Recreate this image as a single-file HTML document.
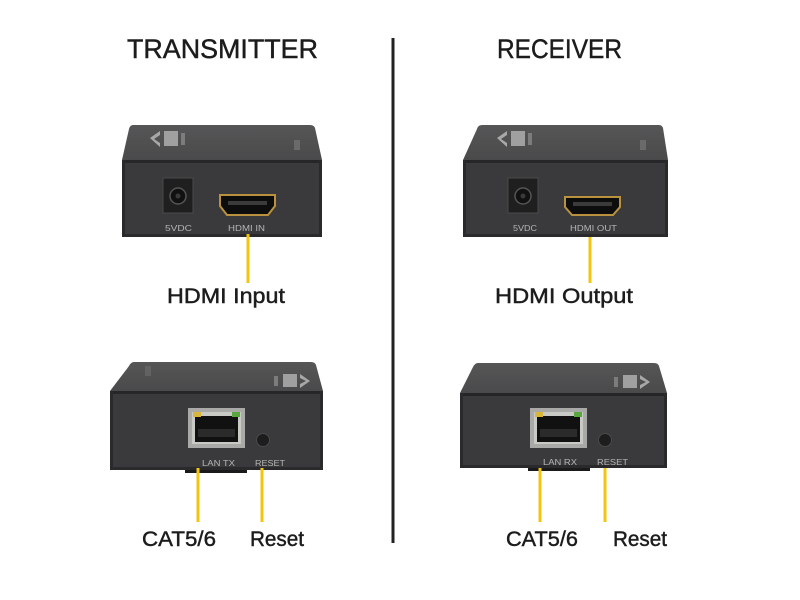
<!DOCTYPE html>
<html><head><meta charset="utf-8"><style>
html,body{margin:0;padding:0;background:#fff;}
svg{display:block;}
text{font-family:"Liberation Sans",Arial,sans-serif;}
.t{fill:#1c1c1c;stroke:#1c1c1c;stroke-width:0.45;}
</style></head><body>
<svg width="800" height="600" viewBox="0 0 800 600" xmlns="http://www.w3.org/2000/svg">
<defs>
<linearGradient id="tf" x1="0" y1="0" x2="0" y2="1">
<stop offset="0" stop-color="#565657"/><stop offset="1" stop-color="#4a4a4b"/>
</linearGradient>
</defs>
<rect width="800" height="600" fill="#fff"/>
<!-- titles -->
<text class="t" x="127" y="58" font-size="27" textLength="191" lengthAdjust="spacingAndGlyphs">TRANSMITTER</text>
<text class="t" x="497" y="58" font-size="27" textLength="125" lengthAdjust="spacingAndGlyphs">RECEIVER</text>
<!-- divider -->
<rect x="391.5" y="38" width="3" height="505" fill="#222"/>

<!-- ===== TX top unit ===== -->
<path d="M133,125 L310,125 Q314,125 315,128 L322,160 L122,160 L129,129 Q130,125 133,125 Z" fill="url(#tf)"/>
<path d="M150,138 L160,131 L160,135 L154,139 L160,143 L160,147 Z" fill="#a8a8a8"/>
<rect x="164" y="131" width="14" height="15" fill="#a0a0a0"/>
<rect x="181" y="133" width="4" height="12" fill="#7c7c7c"/>
<rect x="294" y="140" width="6" height="10" fill="#6a6a6a"/>
<rect x="122" y="160" width="200" height="77" fill="#3a393b"/>
<rect x="122" y="160" width="200" height="3" fill="#262527"/>
<rect x="122" y="160" width="3" height="77" fill="#2a292b"/>
<rect x="319" y="160" width="3" height="77" fill="#2a292b"/>
<rect x="122" y="234" width="200" height="3" fill="#2a292b"/>
<!-- power jack -->
<rect x="163" y="178" width="30" height="35" fill="#1f1f20" stroke="#4a4a4a" stroke-width="1"/>
<circle cx="178" cy="196" r="8" fill="#111" stroke="#555" stroke-width="1.5"/>
<circle cx="178" cy="196" r="2.5" fill="#3a3a3a"/>
<!-- HDMI -->
<path d="M220,195 L275,195 L275,206 L268,215 L227,215 L220,206 Z" fill="#0d0d0d" stroke="#b8923e" stroke-width="2"/>
<rect x="228" y="201" width="39" height="4" fill="#3b3b3b"/>
<text x="165" y="231" font-size="8" fill="#b5b5b5" textLength="27" lengthAdjust="spacingAndGlyphs">5VDC</text>
<text x="228" y="231" font-size="8" fill="#b5b5b5" textLength="37" lengthAdjust="spacingAndGlyphs">HDMI IN</text>
<rect x="246.5" y="234" width="3" height="49" fill="#f2c511"/>
<text class="t" x="167" y="303" font-size="21" textLength="118" lengthAdjust="spacingAndGlyphs">HDMI Input</text>

<!-- ===== RX top unit ===== -->
<path d="M482,125 L659,125 Q662,125 663,128 L668,160 L463,160 L477,129 Q478,125 482,125 Z" fill="url(#tf)"/>
<path d="M497,138 L507,131 L507,135 L501,139 L507,143 L507,147 Z" fill="#a8a8a8"/>
<rect x="511" y="131" width="14" height="15" fill="#a0a0a0"/>
<rect x="528" y="133" width="4" height="12" fill="#7c7c7c"/>
<rect x="640" y="140" width="6" height="10" fill="#6a6a6a"/>
<rect x="463" y="160" width="205" height="77" fill="#3a393b"/>
<rect x="463" y="160" width="205" height="3" fill="#262527"/>
<rect x="463" y="160" width="3" height="77" fill="#2a292b"/>
<rect x="665" y="160" width="3" height="77" fill="#2a292b"/>
<rect x="463" y="234" width="205" height="3" fill="#2a292b"/>
<rect x="508" y="178" width="30" height="35" fill="#1f1f20" stroke="#4a4a4a" stroke-width="1"/>
<circle cx="523" cy="196" r="8" fill="#111" stroke="#555" stroke-width="1.5"/>
<circle cx="523" cy="196" r="2.5" fill="#3a3a3a"/>
<path d="M565,197 L620,197 L620,207 L613,215 L572,215 L565,207 Z" fill="#0d0d0d" stroke="#b8923e" stroke-width="2"/>
<rect x="573" y="202" width="39" height="4" fill="#3b3b3b"/>
<text x="513" y="231" font-size="8" fill="#b5b5b5" textLength="24" lengthAdjust="spacingAndGlyphs">5VDC</text>
<text x="570" y="231" font-size="8" fill="#b5b5b5" textLength="47" lengthAdjust="spacingAndGlyphs">HDMI OUT</text>
<rect x="588.5" y="237" width="3" height="46" fill="#f2c511"/>
<text class="t" x="495" y="303" font-size="21" textLength="138" lengthAdjust="spacingAndGlyphs">HDMI Output</text>

<!-- ===== TX bottom unit ===== -->
<path d="M134,362 L311,362 Q315,362 316,365 L323,391 L110,391 L129,366 Q131,362 134,362 Z" fill="url(#tf)"/>
<path d="M300,374 L310,381 L300,388 L300,384 L306,381 L300,378 Z" fill="#a8a8a8"/>
<rect x="283" y="374" width="14" height="13" fill="#a0a0a0"/>
<rect x="274" y="376" width="4" height="10" fill="#7c7c7c"/>
<rect x="145" y="366" width="6" height="10" fill="#626262"/>
<rect x="110" y="391" width="213" height="79" fill="#3a393b"/>
<rect x="110" y="391" width="213" height="3" fill="#262527"/>
<rect x="110" y="391" width="3" height="79" fill="#2a292b"/>
<rect x="320" y="391" width="3" height="79" fill="#2a292b"/>
<rect x="110" y="467" width="213" height="3" fill="#2a292b"/>
<rect x="185" y="470" width="62" height="3" fill="#1a1a1a"/>
<!-- RJ45 -->
<rect x="188" y="408" width="57" height="40" fill="#a9a9a7"/>
<rect x="192" y="412" width="49" height="32" fill="#c9c9c5"/>
<rect x="195" y="416" width="43" height="26" fill="#111"/>
<rect x="198" y="429" width="37" height="8" fill="#2b2b2b"/>
<rect x="193" y="412" width="8" height="5" fill="#d8b63a"/>
<rect x="232" y="412" width="8" height="5" fill="#59a83f"/>
<circle cx="263" cy="440" r="6.5" fill="#1d1d1e" stroke="#4a4a4a" stroke-width="1"/>
<text x="202" y="466" font-size="8" fill="#b5b5b5" textLength="33" lengthAdjust="spacingAndGlyphs">LAN TX</text>
<text x="255" y="466" font-size="8" fill="#b5b5b5" textLength="30" lengthAdjust="spacingAndGlyphs">RESET</text>
<rect x="196.5" y="468" width="3" height="54" fill="#f2c511"/>
<rect x="260.5" y="468" width="3" height="54" fill="#f2c511"/>
<text class="t" x="142" y="546" font-size="21" textLength="74" lengthAdjust="spacingAndGlyphs">CAT5/6</text>
<text class="t" x="250" y="546" font-size="21" textLength="54" lengthAdjust="spacingAndGlyphs">Reset</text>

<!-- ===== RX bottom unit ===== -->
<path d="M478,363 L654,363 Q658,363 659,366 L667,393 L460,393 L473,367 Q475,363 478,363 Z" fill="url(#tf)"/>
<path d="M640,375 L650,382 L640,389 L640,385 L646,382 L640,379 Z" fill="#a8a8a8"/>
<rect x="623" y="375" width="14" height="13" fill="#a0a0a0"/>
<rect x="614" y="377" width="4" height="10" fill="#7c7c7c"/>
<rect x="460" y="393" width="207" height="75" fill="#3a393b"/>
<rect x="460" y="393" width="207" height="3" fill="#262527"/>
<rect x="460" y="393" width="3" height="75" fill="#2a292b"/>
<rect x="664" y="393" width="3" height="75" fill="#2a292b"/>
<rect x="460" y="465" width="207" height="3" fill="#2a292b"/>
<rect x="528" y="468" width="62" height="3" fill="#1a1a1a"/>
<rect x="530" y="408" width="57" height="40" fill="#a9a9a7"/>
<rect x="534" y="412" width="49" height="32" fill="#c9c9c5"/>
<rect x="537" y="416" width="43" height="26" fill="#111"/>
<rect x="540" y="429" width="37" height="8" fill="#2b2b2b"/>
<rect x="535" y="412" width="8" height="5" fill="#d8b63a"/>
<rect x="574" y="412" width="8" height="5" fill="#59a83f"/>
<circle cx="605" cy="440" r="6.5" fill="#1d1d1e" stroke="#4a4a4a" stroke-width="1"/>
<text x="543" y="465" font-size="8" fill="#b5b5b5" textLength="34" lengthAdjust="spacingAndGlyphs">LAN RX</text>
<text x="597" y="465" font-size="8" fill="#b5b5b5" textLength="31" lengthAdjust="spacingAndGlyphs">RESET</text>
<rect x="538.5" y="468" width="3" height="54" fill="#f2c511"/>
<rect x="603.5" y="468" width="3" height="54" fill="#f2c511"/>
<text class="t" x="506" y="546" font-size="21" textLength="72" lengthAdjust="spacingAndGlyphs">CAT5/6</text>
<text class="t" x="613" y="546" font-size="21" textLength="54" lengthAdjust="spacingAndGlyphs">Reset</text>
</svg>
</body></html>
